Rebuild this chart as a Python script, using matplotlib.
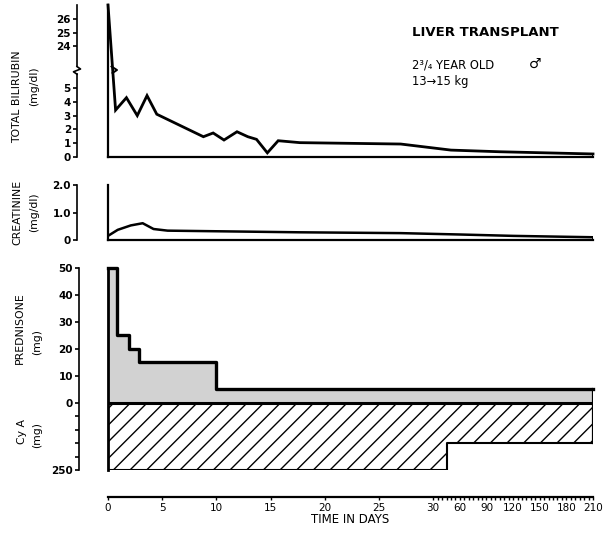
import matplotlib
matplotlib.use("Agg")
import matplotlib.pyplot as plt
import numpy as np

plt.rcParams['font.family'] = ['DejaVu Sans']
plt.rcParams['hatch.linewidth'] = 1.0

# values
bili_days = [0, 0.7, 1.7, 2.7, 3.6, 4.5, 8.8, 9.7, 10.7, 11.9, 12.9, 13.7, 14.7, 15.7, 17.7, 27, 50, 105, 210]
bili_vals = [27, 3.4, 4.3, 3.0, 4.45, 3.1, 1.47, 1.74, 1.23, 1.83, 1.47, 1.28, 0.3, 1.18, 1.04, 0.94, 0.5, 0.38, 0.22]

creat_days = [0, 0.9, 2.1, 3.2, 4.2, 5.5, 17.7, 27, 60, 120, 210]
creat_vals = [0.15, 0.37, 0.53, 0.61, 0.40, 0.34, 0.28, 0.25, 0.20, 0.15, 0.10]

pred_days = [0, 0.8, 1.9, 2.9, 10, 210]
pred_mg = [50, 25, 20, 15, 5, 5]

cya_days = [0, 45, 210]
cya_mg = [250, 150, 150]

x_ticks = [0, 5, 10, 15, 20, 25, 30, 60, 90, 120, 150, 180, 210]
x_minor = [d for d in range(35, 210, 5) if d % 30 != 0]

# time axis: linear to day 30, compressed after
K = 0.0819
def xf(d):
    d = np.asarray(d, float)
    return np.where(d <= 30, d, 30 + (d - 30) * K)
def xi(u):
    u = np.asarray(u, float)
    return np.where(u <= 30, u, 30 + (u - 30) / K)

# bilirubin axis with a break between ~6 and ~22
B1, B2, EPS = 6.3, 22.3, 0.001
C = B1 + (B2 - B1) * EPS
def yf(v):
    v = np.asarray(v, float)
    return np.where(v <= B1, v, np.where(v <= B2, B1 + (v - B1) * EPS, C + (v - B2)))
def yi(u):
    u = np.asarray(u, float)
    return np.where(u <= B1, u, np.where(u <= C, B1 + (u - B1) / EPS, B2 + (u - C)))

W, H = 604, 541
fig = plt.figure(figsize=(W / 100, H / 100), dpi=100)

def px_axes(l, t, r, b):
    return fig.add_axes([l / W, 1 - b / H, (r - l) / W, (b - t) / H])

L, R = 108, 593
ax1 = px_axes(L, 5, R, 157)
ax2 = px_axes(L, 185, R, 240)
ax3 = px_axes(L, 267.7, R, 470)

for ax, off in ((ax1, 31), (ax2, 31), (ax3, 29)):
    ax.set_xscale('function', functions=(xf, xi))
    ax.set_xlim(0, 210)
    ax.patch.set_visible(False)
    for s in ('top', 'right'):
        ax.spines[s].set_visible(False)
    ax.spines['left'].set_position(('outward', off * 0.72))
    ax.spines['left'].set_linewidth(1.2)
    ax.tick_params(axis='y', direction='out', length=2.9, width=1.2,
                   labelsize=7.5, pad=1.5)

# ---- bilirubin
ax1.set_yscale('function', functions=(yf, yi))
ax1.set_ylim(0, 27)
ax1.set_yticks([0, 1, 2, 3, 4, 5, 24, 25, 26])
ax1.set_yticklabels(['0', '1', '2', '3', '4', '5', '24', '25', '26'], fontweight='bold')
ax1.spines['left'].set_bounds(0, 6.0)
ax1.spines['bottom'].set_linewidth(1.6)
ax1.tick_params(axis='x', bottom=False, labelbottom=False)
ax1.plot(bili_days, bili_vals, color='black', lw=2.0, solid_joinstyle='miter', clip_on=False)
ax1.plot([0, 0], [0, 27], color='black', lw=1.6, clip_on=False)
ax1.plot([210, 210], [0, bili_vals[-1]], color='black', lw=1.4)

def fx(px):
    return (px - L) / (R - L)
def fy1(py):
    return (157 - py) / (157 - 5)

xs = fx(108 - 31)
ax1.plot([xs, xs], [22.55, 27], color='black', lw=1.2, clip_on=False,
         transform=ax1.get_yaxis_transform())
ax1.plot([xs, fx(80.5), fx(73.5), xs], [fy1(66.6), fy1(69), fy1(71.8), fy1(74.2)],
         color='black', lw=1.2, clip_on=False, transform=ax1.transAxes)
ax1.plot([fx(111.5), fx(117), fx(112.5)], [fy1(66.5), fy1(70), fy1(73)],
         color='black', lw=1.4, clip_on=False, transform=ax1.transAxes)

# ---- creatinine
ax2.set_ylim(0, 2.0)
ax2.set_yticks([0, 1, 2])
ax2.set_yticklabels(['0', '1.0', '2.0'], fontweight='bold')
ax2.spines['left'].set_bounds(0, 2)
ax2.spines['bottom'].set_linewidth(1.6)
ax2.tick_params(axis='x', bottom=False, labelbottom=False)
ax2.plot(creat_days, creat_vals, color='black', lw=1.8)
ax2.plot([0, 0], [0, 2], color='black', lw=1.6, clip_on=False)
ax2.plot([210, 210], [0, creat_vals[-1]], color='black', lw=1.4)

# ---- prednisone (up) and cyclosporin A (down, 10 mg per unit)
cya_neg = [-v / 10 for v in cya_mg]
ax3.set_ylim(-25, 50)
ax3.set_yticks([-25, -20, -15, -10, -5, 0, 10, 20, 30, 40, 50])
ax3.set_yticklabels(['250', '', '', '', '', '0', '10', '20', '30', '40', '50'], fontweight='bold')
ax3.spines['left'].set_bounds(-25, 50)

ax3.fill_between(pred_days, 0, pred_mg, step='post', facecolor='#d2d2d2',
                 linewidth=0, clip_on=False)
ax3.fill_between(cya_days, 0, cya_neg, step='post', facecolor='white',
                 edgecolor='black', hatch='//', linewidth=0)
ax3.step(pred_days, pred_mg, where='post', color='black', lw=2.4, clip_on=False)
ax3.plot([0, 0], [cya_neg[0], pred_mg[0]], color='black', lw=2.0, clip_on=False)
ax3.plot([0, 210], [0, 0], color='black', lw=2.2)
ax3.step(cya_days, cya_neg, where='post', color='black', lw=1.5)
ax3.plot([210, 210], [cya_neg[-1], pred_mg[-1]], color='black', lw=1.6)

ax3.spines['bottom'].set_position(('outward', 27 * 0.72))
ax3.spines['bottom'].set_linewidth(1.6)
ax3.set_xticks(x_ticks)
ax3.set_xticklabels([str(t) for t in x_ticks])
ax3.set_xticks(x_minor, minor=True)
ax3.tick_params(axis='x', which='both', direction='out', length=2.2, width=1.0,
                labelsize=7.5, pad=2)
ax3.set_xlabel('TIME IN DAYS', fontsize=8.5, labelpad=0)

# ---- labels
def ftext(x, y, s, **kw):
    fig.text(x / W, 1 - y / H, s, ha='center', va='center', **kw)

ftext(17, 97, 'TOTAL BILIRUBIN', rotation=90, fontsize=7.8)
ftext(34, 86, '(mg/dl)', rotation=90, fontsize=7.8)
ftext(17, 212, 'CREATININE', rotation=90, fontsize=7.8)
ftext(34, 212, '(mg/dl)', rotation=90, fontsize=7.8)
ftext(20, 328, 'PREDNISONE', rotation=90, fontsize=7.8)
ftext(37, 342, '(mg)', rotation=90, fontsize=7.8)
ftext(22, 432, 'Cy A', rotation=90, fontsize=7.8)
ftext(37, 435, '(mg)', rotation=90, fontsize=7.8)

fig.text(412 / W, 1 - 32 / H, 'LIVER TRANSPLANT', fontsize=9.5, fontweight='bold',
         ha='left', va='center')
fig.text(412 / W, 1 - 65 / H, '2³/₄ YEAR OLD', fontsize=8.3, ha='left', va='center')
fig.text(529 / W, 1 - 64 / H, '♂', fontsize=10, ha='left', va='center')
fig.text(412 / W, 1 - 82 / H, '13→15 kg', fontsize=8.3, ha='left', va='center')

fig.savefig('out.png', dpi=100)
